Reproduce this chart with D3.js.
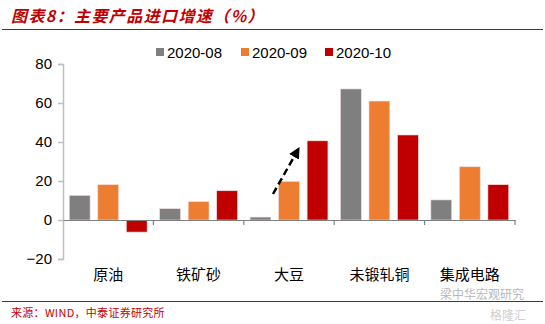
<!DOCTYPE html>
<html><head><meta charset="utf-8">
<script src="https://cdn.jsdelivr.net/npm/d3@7"></script>
<style>body{margin:0;background:#fff}svg{display:block}</style>
</head><body>
<script>
const categories = ["原油","铁矿砂","大豆","未锻轧铜","集成电路"];
const seriesNames = ["2020-08","2020-09","2020-10"];
const s2020_08 = [12.6, 5.8, 1.5, 67.2, 10.3];
const s2020_09 = [18.1, 9.4, 19.8, 61.0, 27.3];
const s2020_10 = [-6.2, 15.0, 40.6, 43.6, 18.1];
const colors = ["#7f7f7f","#ed7d31","#c00000"];
const yTicks = [-20,0,20,40,60,80];
const series = [s2020_08, s2020_09, s2020_10];

const W=545,H=324;
const svg=d3.select("body").append("svg").attr("width",W).attr("height",H);
const cjk='"Noto Sans CJK SC","Noto Sans",sans-serif';
const lat='"Liberation Sans",Arial,sans-serif';

// title
svg.append("text").attr("x",11).attr("y",22).text("图表8：主要产品进口增速（%）")
  .attr("fill","#c00000").attr("font-family",cjk).attr("font-size",16).attr("font-weight","bold")
  .attr("font-style","italic").attr("letter-spacing",1.4);
svg.append("line").attr("x1",2).attr("x2",543).attr("y1",29.5).attr("y2",29.5).attr("stroke","#c00000").attr("stroke-width",1.2);

const x=d3.scaleBand().domain(categories).range([63,515]);
const y=d3.scaleLinear().domain([-20,80]).range([259,64]);
const xs=d3.scaleBand().domain(seriesNames).range([0,x.bandwidth()]).paddingInner(0.27).paddingOuter(0.22);

// y axis
const ya=svg.append("g").attr("transform","translate(63,0)")
  .call(d3.axisLeft(y).tickValues(yTicks).tickSize(5).tickPadding(6).tickFormat(d=>d<0?"\u2212"+Math.abs(d):d));
ya.select(".domain").attr("stroke","#bfbfbf").attr("stroke-width",1.5);
ya.selectAll(".tick line").attr("stroke","#bfbfbf").attr("stroke-width",1.5);
ya.selectAll("text").attr("font-family",lat).attr("font-size",15).attr("fill","#000");

// bars
series.forEach((vals,i)=>{
  svg.append("g").selectAll("rect").data(vals).join("rect")
    .attr("x",(d,j)=>x(categories[j])+xs(seriesNames[i]))
    .attr("width",xs.bandwidth())
    .attr("y",d=>y(Math.max(0,d)))
    .attr("height",d=>Math.abs(y(d)-y(0)))
    .attr("fill",colors[i]).attr("stroke","#f4dada").attr("stroke-width",0.6);
});

// x axis at 0
const xa=svg.append("g").attr("transform",`translate(0,${y(0)})`)
  .call(d3.axisBottom(x).tickValues([]).tickSizeOuter(0));
xa.select(".domain").attr("stroke","#808080").attr("stroke-width",1.2);
const bounds=categories.map(c=>x(c)).slice(1).concat([x.range()[1]]);
svg.append("g").selectAll("line").data(bounds).join("line")
  .attr("x1",d=>d).attr("x2",d=>d).attr("y1",y(0)).attr("y2",y(0)+5)
  .attr("stroke","#808080").attr("stroke-width",1.2);
svg.append("g").selectAll("text").data(categories).join("text")
  .attr("x",d=>x(d)+x.bandwidth()/2).attr("y",280).attr("text-anchor","middle")
  .attr("font-family",cjk).attr("font-size",15).attr("fill","#000").text(d=>d);

// legend
const lx=[156,241,325];
seriesNames.forEach((n,i)=>{
  svg.append("rect").attr("x",lx[i]).attr("y",48).attr("width",8).attr("height",8).attr("fill",colors[i]);
  svg.append("text").attr("x",lx[i]+11).attr("y",58).text(n)
    .attr("font-family",lat).attr("font-size",15).attr("fill","#000");
});

// dashed arrow
const defs=svg.append("defs");
defs.append("marker").attr("id","ah").attr("viewBox","0 0 10 10").attr("refX",9).attr("refY",5)
  .attr("markerWidth",4.5).attr("markerHeight",4.5).attr("orient","auto")
  .append("path").attr("d","M0,0L10,5L0,10z").attr("fill","#000");
svg.append("line").attr("x1",273).attr("y1",194).attr("x2",299).attr("y2",148)
  .attr("stroke","#000").attr("stroke-width",2.5).attr("stroke-dasharray","7,4").attr("marker-end","url(#ah)");

// footer
svg.append("line").attr("x1",2).attr("x2",543).attr("y1",301.5).attr("y2",301.5).attr("stroke","#c00000").attr("stroke-width",1);
svg.append("text").attr("x",11).attr("y",317).text("来源：WIND，中泰证券研究所")
  .attr("fill","#c00000").attr("font-family",cjk).attr("font-size",11).attr("letter-spacing",0.3);
// watermark
svg.append("text").attr("x",440).attr("y",299).text("梁中华宏观研究")
  .attr("fill","#999").attr("opacity",0.7).attr("font-family",cjk).attr("font-size",12);
svg.append("text").attr("x",490).attr("y",320).text("格隆汇")
  .attr("fill","#bbb").attr("opacity",0.7).attr("font-family",cjk).attr("font-size",12);
</script>
</body></html>
